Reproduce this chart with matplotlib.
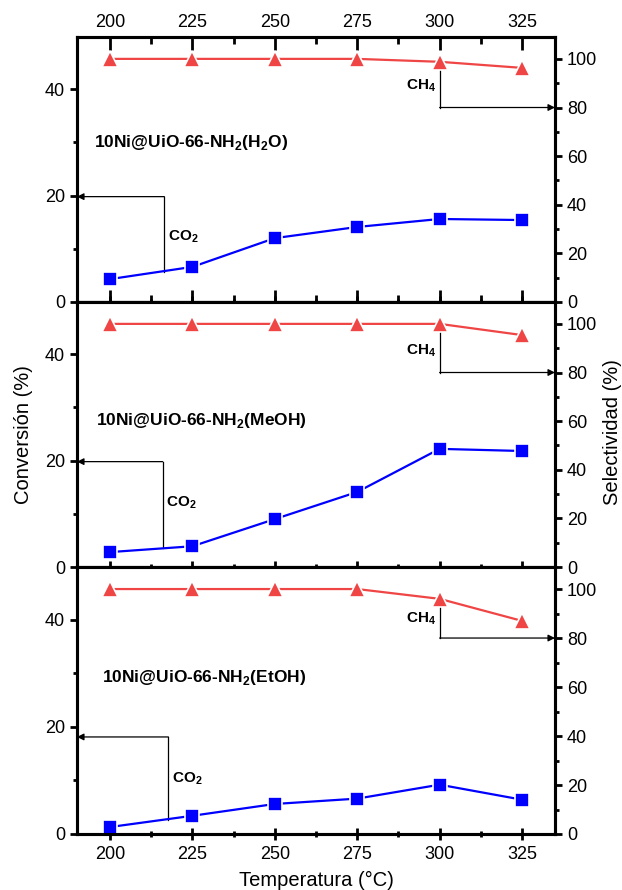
import matplotlib
matplotlib.use("Agg")
import matplotlib.pyplot as plt
from matplotlib.ticker import MultipleLocator

plt.rcParams.update({
    'font.family': 'Liberation Sans',
    'font.size': 13,
    'mathtext.fontset': 'custom',
    'mathtext.rm': 'Liberation Sans',
    'mathtext.bf': 'Liberation Sans:bold',
})

# Data
temperatura = [200, 225, 250, 275, 300, 325]

co2_h2o = [4.3, 6.6, 12.0, 14.1, 15.6, 15.4]
ch4_h2o = [100.0, 100.0, 100.0, 100.0, 98.8, 96.3]

co2_meoh = [2.8, 3.9, 9.0, 14.1, 22.2, 21.8]
ch4_meoh = [100.0, 100.0, 100.0, 100.0, 100.0, 95.4]

co2_etoh = [1.3, 3.4, 5.6, 6.6, 9.2, 6.4]
ch4_etoh = [100.0, 100.0, 100.0, 100.0, 96.0, 87.0]

samples = [r'10Ni@UiO-66-NH$_\mathbf{2}$(H$_\mathbf{2}$O)',
           r'10Ni@UiO-66-NH$_\mathbf{2}$(MeOH)',
           r'10Ni@UiO-66-NH$_\mathbf{2}$(EtOH)']

conversion = [co2_h2o, co2_meoh, co2_etoh]
selectivity = [ch4_h2o, ch4_meoh, ch4_etoh]

# label / annotation positions (data coords)
sample_xy = [(195.2, 29.9), (195.8, 27.6), (197.6, 29.2)]
co2_arrow = [(216.5, 5.7, 19.8), (216.0, 3.5, 19.8), (217.7, 2.7, 18.1)]  # x, y_start, y_arrow
co2_text_y = [12.2, 12.0, 10.3]
ch4_text_y = [89, 89, 88]

RED = '#f04545'
BLUE = '#0000ff'

fig = plt.figure(figsize=(6.22, 8.90), dpi=100)
left, width = 77 / 622, 478 / 622
panels = [(37, 302), (302, 567), (567, 834)]

axes = []
for i, (top, bot) in enumerate(panels):
    ax = fig.add_axes([left, 1 - bot / 890, width, (bot - top) / 890])
    ax2 = ax.twinx()
    axes.append(ax)

    ax.plot(temperatura, conversion[i], color=BLUE, lw=1.6, marker='s', ms=9.5,
            mec='white', mew=1.2, zorder=3)
    ax2.plot(temperatura, selectivity[i], color=RED, lw=1.6, marker='^', ms=11,
             mec='white', mew=1.2, zorder=3)

    ax.set_xlim(190, 335)
    ax.set_ylim(0, 49.8)
    ax2.set_ylim(0, 109)

    ax.set_xticks(temperatura)
    ax.xaxis.set_minor_locator(MultipleLocator(12.5))
    ax.yaxis.set_major_locator(MultipleLocator(20))
    ax.yaxis.set_minor_locator(MultipleLocator(10))
    ax2.yaxis.set_major_locator(MultipleLocator(20))
    ax2.yaxis.set_minor_locator(MultipleLocator(10))

    for a in (ax, ax2):
        for s in a.spines.values():
            s.set_linewidth(2.2)

    ax.tick_params(axis='x', which='major', direction='inout', length=9, width=2,
                   labelsize=13, pad=4)
    ax.tick_params(axis='x', which='minor', direction='inout', length=5, width=2)
    ax.tick_params(axis='y', which='major', direction='out', length=5, width=2,
                   labelsize=13)
    ax.tick_params(axis='y', which='minor', direction='out', length=3, width=2)
    ax2.tick_params(axis='y', which='major', direction='out', length=5, width=2,
                    labelsize=13)
    ax2.tick_params(axis='y', which='minor', direction='out', length=3, width=2)

    if i == 0:
        ax.tick_params(axis='x', which='both', top=True, labeltop=True,
                       bottom=True, labelbottom=False)
        ax.tick_params(axis='x', which='major', direction='in')
        ax.tick_params(axis='x', which='minor', direction='in')
        # bottom ticks crossing the spine
        sec = ax.secondary_xaxis('bottom')
        sec.set_xticks(temperatura)
        sec.xaxis.set_minor_locator(MultipleLocator(12.5))
        sec.tick_params(which='major', direction='inout', length=9, width=2,
                        labelbottom=False)
        sec.tick_params(which='minor', direction='inout', length=5, width=2)
        sec.spines['bottom'].set_linewidth(2.2)
    elif i == 1:
        ax.tick_params(axis='x', labelbottom=False)

    # sample name
    ax.text(sample_xy[i][0], sample_xy[i][1], samples[i], fontsize=12.5,
            fontweight='bold', ha='left', va='center')

    # CO2 arrow to left axis
    xa, ys, ya = co2_arrow[i]
    ax.plot([xa, xa], [ys, ya], color='black', lw=0.9, zorder=2)
    ax.annotate('', xy=(190, ya), xytext=(xa, ya),
                arrowprops=dict(arrowstyle='-|>', color='black', lw=0.9,
                                mutation_scale=10, shrinkA=0, shrinkB=0))
    ax.text(xa + 1.0, co2_text_y[i], r'$\mathbf{CO_2}$', fontsize=11,
            ha='left', va='center')

    # CH4 arrow to right axis
    ax2.plot([300, 300], [selectivity[i][4], 80], color='black', lw=0.9, zorder=2)
    ax2.annotate('', xy=(335, 80), xytext=(300, 80),
                 arrowprops=dict(arrowstyle='-|>', color='black', lw=0.9,
                                 mutation_scale=10, shrinkA=0, shrinkB=0))
    ax2.text(298.8, ch4_text_y[i], r'$\mathbf{CH_4}$', fontsize=11,
             ha='right', va='center')

    if i == 1:
        ax.set_ylabel('Conversión (%)', fontsize=14.5)
        ax.yaxis.set_label_coords(-0.092, 0.5)
        ax2.set_ylabel('Selectividad (%)', fontsize=14.5)
        ax2.yaxis.set_label_coords(1.10, 0.51)

axes[2].set_xlabel('Temperatura (°C)', fontsize=14.5, labelpad=6)

fig.savefig('out.png', dpi=100)
